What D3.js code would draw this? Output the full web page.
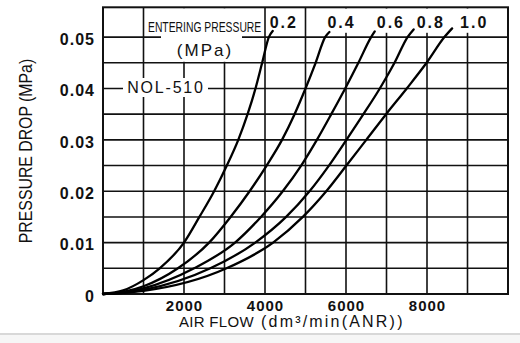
<!DOCTYPE html>
<html><head><meta charset="utf-8">
<script src="https://cdn.jsdelivr.net/npm/d3@7"></script>
<style>
html,body{margin:0;padding:0;background:#fff;}
svg{display:block;font-family:"Liberation Sans",Arial,Helvetica,sans-serif;}
</style></head><body>
<svg id="chart" width="520" height="343"></svg>
<script>
// ---- data (air flow dm3/min(ANR), pressure drop MPa) ----
const pressureLabels = ["0.2", "0.4", "0.6", "0.8", "1.0"];
const curve02 = [[0,0],[500,0.0007],[1000,0.0027],[1400,0.005],[2000,0.01],[2380,0.015],[2744,0.02],[3058,0.025],[3340,0.03],[3570,0.035],[3765,0.04],[3930,0.045],[4095,0.05],[4190,0.0512]];
const curve04 = [[0,0],[500,0.0004],[1000,0.0015],[1850,0.005],[2620,0.01],[3150,0.015],[3620,0.02],[4040,0.025],[4420,0.03],[4730,0.035],[5000,0.04],[5250,0.045],[5485,0.05],[5590,0.051]];
const curve06 = [[0,0],[500,0.0003],[1000,0.0011],[2250,0.005],[3260,0.01],[3900,0.015],[4438,0.02],[4893,0.025],[5281,0.03],[5636,0.035],[5980,0.04],[6306,0.045],[6620,0.05],[6710,0.0511]];
const curve08 = [[0,0],[500,0.0002],[1000,0.0008],[2650,0.005],[3760,0.01],[4521,0.015],[5099,0.02],[5579,0.025],[6010,0.03],[6430,0.035],[6835,0.04],[7198,0.045],[7520,0.05],[7670,0.0515]];
const curve10 = [[0,0],[500,0.0002],[1000,0.0006],[3050,0.005],[4200,0.01],[4934,0.015],[5512,0.02],[6010,0.025],[6500,0.03],[6990,0.035],[7500,0.04],[7990,0.045],[8430,0.05],[8620,0.0517]];
const xTickValues = [2000, 4000, 6000, 8000];
const yTickValues = [0, 0.01, 0.02, 0.03, 0.04, 0.05];
const yTickLabels = ["0", "0.01", "0.02", "0.03", "0.04", "0.05"];
const xGridValues = [1000, 2000, 3000, 4000, 5000, 6000, 7000, 8000, 9000];
const yGridValues = [0.005, 0.01, 0.015, 0.02, 0.025, 0.03, 0.035, 0.04, 0.045, 0.05];
const xDomain = [0, 10000];
const yDomain = [0, 0.0558];
const xTitleMain = "AIR FLOW";
const xTitleUnit = "(dm³/min(ANR))";
const yTitle = "PRESSURE DROP (MPa)";
const noteTitle = "ENTERING PRESSURE";
const noteUnit = "(MPa)";
const modelName = "NOL-510";

const curves = [curve02, curve04, curve06, curve08, curve10];

const svg = d3.select("#chart");
const L = 103, R = 508, T = 7.3, B = 294;
const x = d3.scaleLinear().domain(xDomain).range([L, R]);
const y = d3.scaleLinear().domain(yDomain).range([B, T]);

svg.append("rect").attr("width", 520).attr("height", 343).attr("fill", "#fff");
// scan edge at bottom
svg.append("rect").attr("x", 0).attr("y", 333).attr("width", 520).attr("height", 2).attr("fill", "#d8d8d8");
svg.append("rect").attr("x", 0).attr("y", 335).attr("width", 520).attr("height", 8).attr("fill", "#f6f6f6");

const grid = svg.append("g").attr("stroke", "#111").attr("stroke-width", 1.6);
grid.selectAll("line.v").data(xGridValues).join("line")
  .attr("x1", d => x(d)).attr("x2", d => x(d)).attr("y1", y(0)).attr("y2", T);
grid.selectAll("line.h").data(yGridValues).join("line")
  .attr("x1", L).attr("x2", R).attr("y1", d => y(d)).attr("y2", d => y(d));

// white boxes behind annotations
const mask = svg.append("g").attr("fill", "#fff");
mask.append("rect").attr("x", 147).attr("y", T + 1.2).attr("width", 116).attr("height", y(0.05) - T - 2.5);
mask.append("rect").attr("x", 161).attr("y", T + 1.2).attr("width", 81).attr("height", y(0.045) - T - 2.2);
mask.append("rect").attr("x", 123).attr("y", 78).attr("width", 85).attr("height", 19);
mask.append("rect").attr("x", 309).attr("y", T + 1.2).attr("width", R - 310).attr("height", y(0.05) - T - 5.5);

// frame
svg.append("rect").attr("x", L).attr("y", T).attr("width", R - L).attr("height", B - T)
  .attr("fill", "none").attr("stroke", "#111").attr("stroke-width", 2);

// curves
const line = d3.line().x(d => x(d[0])).y(d => y(d[1])).curve(d3.curveMonotoneX);
svg.append("g").selectAll("path").data(curves).join("path")
  .attr("d", line).attr("fill", "none").attr("stroke", "#000").attr("stroke-width", 2.3)
  .attr("stroke-linecap", "round");

// curve labels
const labelDx = [-3, -2, 2, 3, 8];
svg.append("g").selectAll("text").data(curves).join("text")
  .attr("x", (c, i) => x(c[c.length - 1][0]) + labelDx[i])
  .attr("y", 28)
  .attr("font-size", 16).attr("font-weight", "bold").attr("letter-spacing", 2).attr("fill", "#111")
  .text((c, i) => pressureLabels[i]);

// axes
const yAxis = d3.axisLeft(y).tickValues(yTickValues).tickSize(0).tickPadding(8)
  .tickFormat((d, i) => yTickLabels[i]);
const gy = svg.append("g").attr("transform", `translate(${L},0)`).call(yAxis);
gy.select(".domain").remove();
gy.selectAll("text").attr("font-size", 16).attr("font-weight", "bold").attr("letter-spacing", 1)
  .attr("fill", "#111").attr("dy", "0.45em").style("font-family", "Liberation Sans, Arial, sans-serif");

const xAxis = d3.axisBottom(x).tickValues(xTickValues).tickSize(0).tickPadding(6)
  .tickFormat(d3.format("d"));
const gx = svg.append("g").attr("transform", `translate(0,${B})`).call(xAxis);
gx.select(".domain").remove();
gx.selectAll("text").attr("font-size", 15).attr("font-weight", "bold").attr("letter-spacing", 1)
  .attr("fill", "#111").style("font-family", "Liberation Sans, Arial, sans-serif");

// titles
svg.append("text").attr("x", 179).attr("y", 326.5).attr("font-size", 15).attr("fill", "#111")
  .attr("letter-spacing", 0.3).text(xTitleMain);
svg.append("text").attr("x", 261).attr("y", 326.5).attr("font-size", 16).attr("fill", "#111")
  .attr("letter-spacing", 2.2).text(xTitleUnit);
svg.append("text").attr("transform", "translate(32,151) rotate(-90) scale(0.88,1)").attr("text-anchor", "middle")
  .attr("font-size", 18).attr("fill", "#111").text(yTitle);

// annotations
svg.append("text").attr("transform", "translate(148,31.5) scale(0.74,1)").attr("font-size", 14).attr("fill", "#111")
  .text(noteTitle);
svg.append("text").attr("x", 205).attr("y", 56).attr("text-anchor", "middle").attr("font-size", 17)
  .attr("letter-spacing", 2).attr("fill", "#111").text(noteUnit);
svg.append("text").attr("x", 166).attr("y", 93).attr("text-anchor", "middle").attr("font-size", 16)
  .attr("letter-spacing", 1.8).attr("fill", "#111").text(modelName);
</script>
</body></html>
